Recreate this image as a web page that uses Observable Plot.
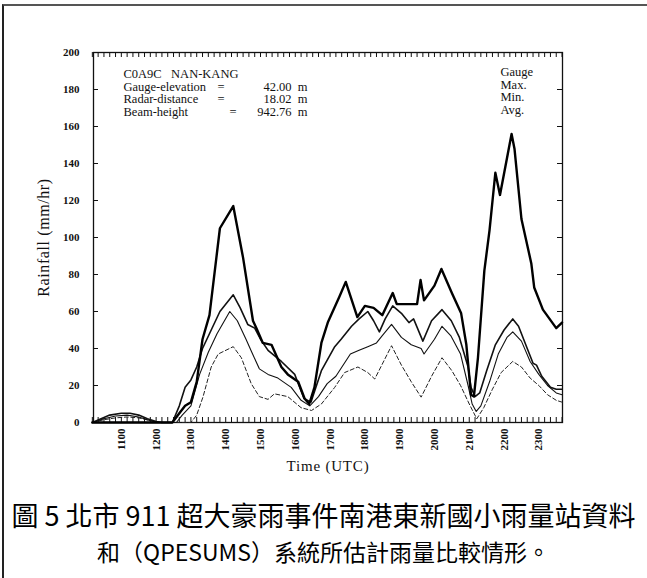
<!DOCTYPE html>
<html><head><meta charset="utf-8">
<script src="https://cdn.jsdelivr.net/npm/d3@7"></script>
<script src="https://cdn.jsdelivr.net/npm/@observablehq/plot@0.6"></script>
<style>
body{margin:0;background:#fff;}
#fig{position:relative;width:647px;height:578px;overflow:hidden;background:#fff;}
#border{position:absolute;left:2px;top:4px;width:660px;height:600px;border-left:2px solid #222;border-top:2px solid #555;}
#chart{position:absolute;left:0;top:0;}
.cap{position:absolute;left:0;width:647px;text-align:center;font-family:"Noto Sans CJK TC";color:#000;white-space:nowrap;}
</style></head><body>
<div id="fig"><div id="border"></div><div id="chart"></div>
<div class="cap" id="cap1" style="top:497px;font-size:27px;line-height:36px"></div>
<div class="cap" id="cap2" style="top:534px;font-size:23px;line-height:34px"></div></div>
<script>
// ---- data (time as HHMM UTC, rainfall mm/hr) ----
const gauge = [[1010,0],[1228,0],[1240,5],[1250,9],[1300,11],[1310,22],[1320,45],[1332,58],[1350,105],[1413,117],[1430,89],[1447,55],[1453,51],[1504,43],[1519,42],[1536,30],[1547,26],[1605,22],[1616,13],[1624,10],[1633,19],[1645,43],[1656,54],[1716,68],[1727,76],[1747,57],[1800,63],[1815,62],[1830,58],[1848,70],[1855,64],[1930,64],[1936,77],[1942,66],[2000,74],[2012,83],[2030,70],[2046,59],[2055,42],[2103,15],[2108,14],[2115,35],[2126,82],[2135,104],[2145,135],[2153,123],[2213,156],[2218,148],[2230,110],[2247,86],[2252,73],[2307,61],[2330,51],[2340,54]];
const radarMax = [[1010,0],[1025,2],[1040,4],[1100,5],[1115,5],[1130,4],[1145,2],[1200,0.5],[1210,0],[1228,0],[1240,9],[1250,19],[1300,23],[1310,30],[1320,40],[1335,50],[1350,60],[1413,69],[1425,62],[1438,53],[1450,51],[1500,45],[1513,39],[1536,33],[1559,26],[1615,13],[1627,11],[1645,28],[1708,41],[1719,45],[1737,52],[1750,56],[1805,60],[1815,55],[1825,49],[1835,56],[1848,63],[1903,59],[1916,54],[1924,56],[1940,44],[1955,55],[2013,61],[2029,55],[2043,46],[2058,30],[2103,19],[2110,14],[2118,16],[2130,28],[2145,42],[2200,50],[2215,56],[2225,52],[2240,40],[2250,32],[2256,31],[2305,25],[2320,19],[2330,18],[2340,18]];
const radarAvg = [[1010,0],[1030,2],[1050,3.5],[1110,4],[1130,3],[1150,1],[1205,0],[1235,0],[1245,4],[1300,9],[1315,26],[1330,38],[1345,48],[1407,60],[1420,55],[1435,45],[1445,38],[1458,29],[1513,26],[1530,24],[1553,19],[1610,12],[1625,9],[1640,14],[1655,21],[1710,25],[1735,37],[1750,39],[1805,41],[1820,43],[1830,47],[1846,53],[1903,46],[1920,42],[1937,40],[1942,37],[2000,45],[2013,52],[2028,47],[2045,37],[2058,20],[2105,10],[2112,6],[2120,9],[2135,22],[2150,37],[2205,46],[2215,49],[2230,44],[2245,33],[2300,26],[2315,20],[2330,16],[2340,15]];
const radarMin = [[1010,0],[1030,1.5],[1050,2.5],[1110,3],[1130,2.5],[1150,1],[1205,0],[1300,0],[1310,4],[1321,14],[1335,30],[1347,37],[1413,41],[1427,35],[1444,21],[1458,14],[1513,12.5],[1524,15.5],[1547,14],[1610,8],[1628,6.5],[1645,10],[1708,19],[1725,27],[1748,30],[1805,27],[1817,23.5],[1846,41.5],[1903,31],[1920,22],[1937,13.7],[1955,25],[2013,35],[2030,28],[2045,20],[2100,10],[2113,2],[2125,8],[2140,18],[2155,27],[2205,30],[2215,33],[2230,30],[2245,24],[2300,20],[2315,15],[2330,12],[2340,11]];
const hourTicks = [11,12,13,14,15,16,17,18,19,20,21,22,23];
const hourLabels = ["1100","1200","1300","1400","1500","1600","1700","1800","1900","2000","2100","2200","2300"];
const yTicks = [0,20,40,60,80,100,120,140,160,180,200];
const legendNames = ["Gauge","Max.","Min.","Avg."];
const infoLabels = ["C0A9C   NAN-KANG","Gauge-elevation","Radar-distance","Beam-height"];
const infoValues = ["42.00  m","18.02  m","942.76  m"];
const xLabel = "Time (UTC)";
const yLabel = "Rainfall (mm/hr)";
const caption1 = "圖 5  北市 911 超大豪雨事件南港東新國小雨量站資料";
const caption2 = "和（QPESUMS）系統所估計雨量比較情形。";

// ---- helpers ----
const hh = t => Math.floor(t/100) + (t%100)/60;
const rows = a => a.map(([t,v]) => ({t: hh(t), v}));
const xDomain = [10.2, 23.68];
const yDomain = [0, 200];
const minorTicks = d3.range(Math.round(xDomain[0]*6), Math.round(xDomain[1]*6)+1).map(k => k/6);

const mL=93, mR=85, mT=52, mB=58, W=647, H=480;
const fw = W-mL-mR, fh = H-mT-mB;
const tickPx = 5;
const tickY = yDomain[1]*tickPx/fh;                        // tick length in y units
const tickX = (xDomain[1]-xDomain[0])*tickPx/fw;           // tick length in x units

const txt = {fontFamily: "Liberation Serif", fontSize: 12.5, fontWeight: "normal", fill: "#111", lineAnchor: "top", frameAnchor: "top-left"};

const chart = Plot.plot({
  width: W, height: H,
  marginLeft: mL, marginRight: mR, marginTop: mT, marginBottom: mB,
  style: {fontFamily: "Liberation Serif", fontSize: "11px", fontWeight: "bold", color: "#111", background: "transparent"},
  x: {domain: xDomain},
  y: {domain: yDomain},
  marks: [
    Plot.frame({stroke: "#111", strokeWidth: 1.3}),
    Plot.axisX({ticks: hourTicks, tickFormat: (d,i) => hourLabels[i], tickRotate: -90, tickSize: 0, tickPadding: 6, label: xLabel, labelAnchor: "center", labelOffset: 48, labelArrow: "none"}),
    Plot.axisY({ticks: yTicks, tickSize: 0, tickPadding: 14, label: yLabel, labelAnchor: "center", labelOffset: 56, labelArrow: "none"}),
    Plot.ruleX(minorTicks, {x: d => d, y1: yDomain[0], y2: yDomain[0] + tickY, stroke: "#111", strokeWidth: 1}),
    Plot.ruleX(minorTicks, {x: d => d, y1: yDomain[1] - tickY, y2: yDomain[1], stroke: "#111", strokeWidth: 1}),
    Plot.ruleY(yTicks, {y: d => d, x1: xDomain[0], x2: xDomain[0] + tickX, stroke: "#111"}),
    Plot.ruleY(yTicks, {y: d => d, x1: xDomain[1] - tickX, x2: xDomain[1], stroke: "#111"}),
    Plot.line(rows(radarMin), {x: "t", y: "v", stroke: "#222", strokeWidth: 1, strokeDasharray: "4,2.5"}),
    Plot.line(rows(radarAvg), {x: "t", y: "v", stroke: "#111", strokeWidth: 1.1}),
    Plot.line(rows(radarMax), {x: "t", y: "v", stroke: "#111", strokeWidth: 1.6}),
    Plot.line(rows(gauge), {x: "t", y: "v", stroke: "#000", strokeWidth: 2.4}),
    Plot.text([infoLabels.join("\n")], {...txt, dx: 30, dy: 17, textAnchor: "start", lineHeight: 1.0}),
    Plot.text([["=","="].join("\n")], {...txt, dx: 124, dy: 29.5, textAnchor: "start", lineHeight: 1.0}),
    Plot.text(["="], {...txt, dx: 136, dy: 54.5, textAnchor: "start"}),
    Plot.text([infoValues.join("\n")], {...txt, dx: 214, dy: 29.5, textAnchor: "end", lineHeight: 1.0}),
    Plot.text([legendNames.join("\n")], {...txt, dx: 407, dy: 15, textAnchor: "start", lineHeight: 1.0})
  ]
});
document.getElementById("chart").appendChild(chart);
const svg = d3.select(chart);
svg.selectAll('[aria-label="x-axis label"] text, [aria-label="x-axis label"]').style("font-size","15px").style("font-family","Liberation Serif").style("letter-spacing","0.8px").style("font-weight","normal");
svg.selectAll('[aria-label="y-axis label"] text, [aria-label="y-axis label"]').style("font-size","16px").style("font-family","Liberation Serif").style("letter-spacing","0.6px").style("font-weight","normal");
document.getElementById("cap1").textContent = caption1;
document.getElementById("cap2").textContent = caption2;
</script></body></html>
